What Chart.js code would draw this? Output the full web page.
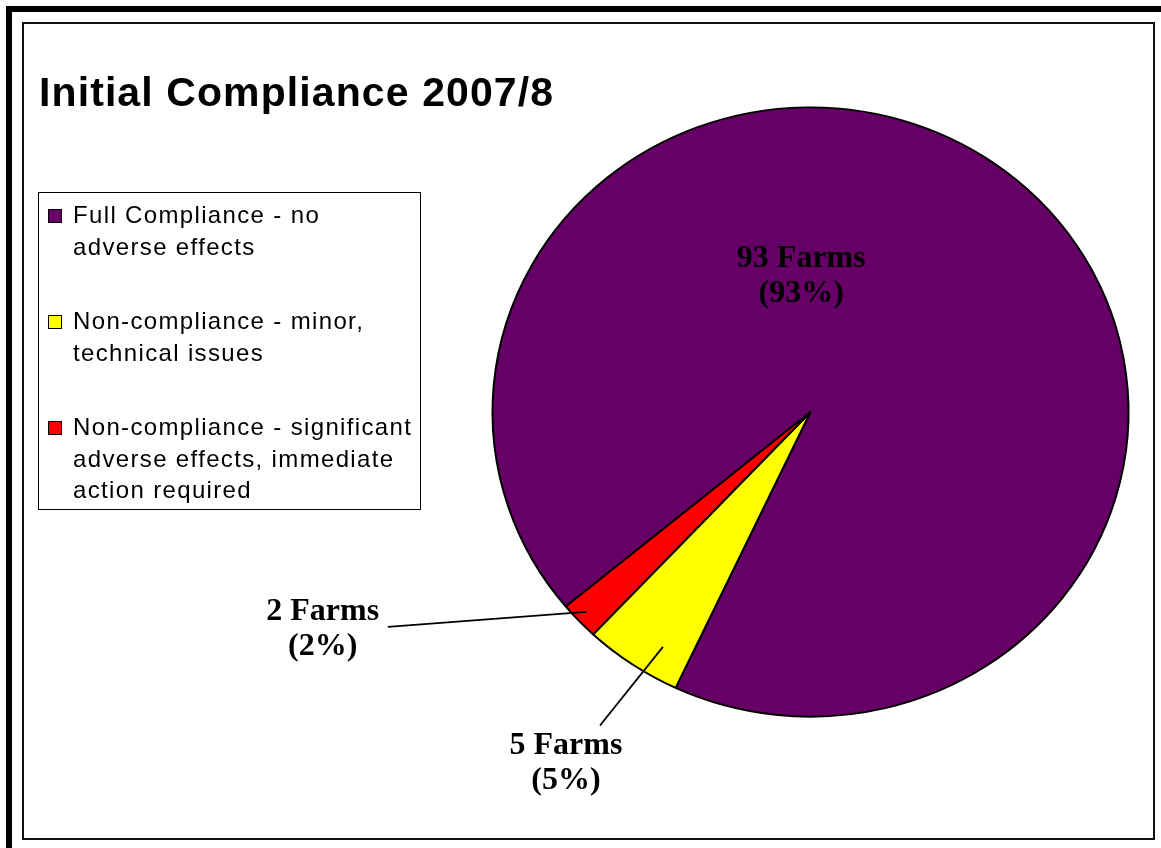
<!DOCTYPE html>
<html>
<head>
<meta charset="utf-8">
<title>Initial Compliance 2007/8</title>
<script src="https://cdn.jsdelivr.net/npm/chart.js@4.4.0/dist/chart.umd.min.js"></script>
<style>
  html, body { margin: 0; padding: 0; background: #fff; }
  #wrap { position: relative; width: 1161px; height: 848px; overflow: hidden; background: #fff; }
  #chart-box { position: absolute; left: 0; top: 0; width: 1161px; height: 848px; }
  #outer { position: absolute; left: 6px; top: 6px; width: 1400px; height: 1100px;
           border-left: 6px solid #000; border-top: 6px solid #000; }
  #inner { position: absolute; left: 22px; top: 22px; width: 1129px; height: 814px;
           border: 2px solid #111; }
  #title { position: absolute; left: 39px; top: 72px; margin: 0;
           font: bold 41px "Liberation Sans", Arial, sans-serif; line-height: 41px;
           letter-spacing: 1.1px; color: #000; white-space: nowrap; }
  #legend { position: absolute; left: 38px; top: 192px; width: 383px; height: 318px;
            box-sizing: border-box; border: 1px solid #000; background: #fff;
            padding: 6px 0 0 0; }
  .item { position: relative; padding-left: 34px; margin-bottom: 43px;
          font: 24px "Liberation Sans", Arial, sans-serif; line-height: 31.5px;
          letter-spacing: 1.35px; color: #000; white-space: nowrap; }
  .swatch { position: absolute; left: 9px; top: 10px; width: 12px; height: 12px;
            border: 1px solid #000; }
</style>
</head>
<body>
<div id="wrap">
  <div id="chart-box"><canvas id="pie"></canvas></div>
  <div id="outer"></div>
  <div id="inner"></div>
  <h1 id="title">Initial Compliance 2007/8</h1>
  <div id="legend"></div>
</div>
<script>
// data
const categories = [
  ['Full Compliance - no', 'adverse effects'],
  ['Non-compliance - minor,', 'technical issues'],
  ['Non-compliance - significant', 'adverse effects, immediate', 'action required']
];
const farms = [93, 5, 2];
const colors = ['#660066', '#FFFF00', '#FF0000'];

// the original pie is slightly wider than tall
const squash = 0.958;

// label placement relative to pie centre, in units of the radius
const labelAnchor = [[-0.029, -0.456], [-0.769, 1.077], [-1.534, 0.653]];
const leaderOuter = [null, [-0.662, 0.986], [-1.329, 0.676]];
const leaderAlong = [null, 0.33, 0.55];
const leaderDepth = [null, 0.90, 0.963];

const total = farms.reduce((a, b) => a + b, 0);

// html legend
const legendEl = document.getElementById('legend');
categories.forEach((lines, i) => {
  const div = document.createElement('div');
  div.className = 'item';
  div.innerHTML = `<span class="swatch" style="background:${colors[i]}"></span>` +
    lines.join('<br>');
  legendEl.appendChild(div);
});

const pieDecor = {
  id: 'pieDecor',
  beforeDatasetsDraw(chart) {
    const a = chart.getDatasetMeta(0).data[0];
    const ctx = chart.ctx;
    ctx.save();
    ctx.translate(a.x, a.y);
    ctx.scale(1, squash);
    ctx.translate(-a.x, -a.y);
  },
  afterDatasetsDraw(chart) {
    const ctx = chart.ctx;
    ctx.restore();
    const arcs = chart.getDatasetMeta(0).data;
    ctx.save();
    ctx.fillStyle = '#000';
    ctx.strokeStyle = '#000';
    ctx.lineWidth = 1.8;
    ctx.font = 'bold 32px "Liberation Serif", "Times New Roman", serif';
    ctx.textAlign = 'center';
    ctx.textBaseline = 'alphabetic';
    arcs.forEach((arc, i) => {
      const p = arc.getProps(['x', 'y', 'startAngle', 'endAngle', 'outerRadius'], true);
      const R = p.outerRadius;
      if (leaderOuter[i]) {
        const ang = p.startAngle + (p.endAngle - p.startAngle) * leaderAlong[i];
        const ix = p.x + Math.cos(ang) * R * leaderDepth[i];
        const iy = p.y + Math.sin(ang) * R * leaderDepth[i] * squash;
        ctx.beginPath();
        ctx.moveTo(p.x + leaderOuter[i][0] * R, p.y + leaderOuter[i][1] * R);
        ctx.lineTo(ix, iy);
        ctx.stroke();
      }
      const lx = p.x + labelAnchor[i][0] * R;
      const ly = p.y + labelAnchor[i][1] * R;
      const pct = Math.round(farms[i] / total * 100);
      ctx.fillText(`${farms[i]} Farms`, lx, ly);
      ctx.fillText(`(${pct}%)`, lx, ly + 35);
    });
    ctx.restore();
  }
};

new Chart(document.getElementById('pie'), {
  type: 'pie',
  data: {
    labels: categories,
    datasets: [{
      data: farms,
      backgroundColor: colors,
      borderColor: '#000',
      borderWidth: 2
    }]
  },
  options: {
    responsive: true,
    maintainAspectRatio: false,
    animation: false,
    events: [],
    rotation: 230.3,
    layout: { padding: { left: 491, right: 31, top: 93, bottom: 117 } },
    plugins: {
      legend: { display: false },
      title: { display: false },
      tooltip: { enabled: false }
    }
  },
  plugins: [pieDecor]
});
</script>
</body>
</html>
